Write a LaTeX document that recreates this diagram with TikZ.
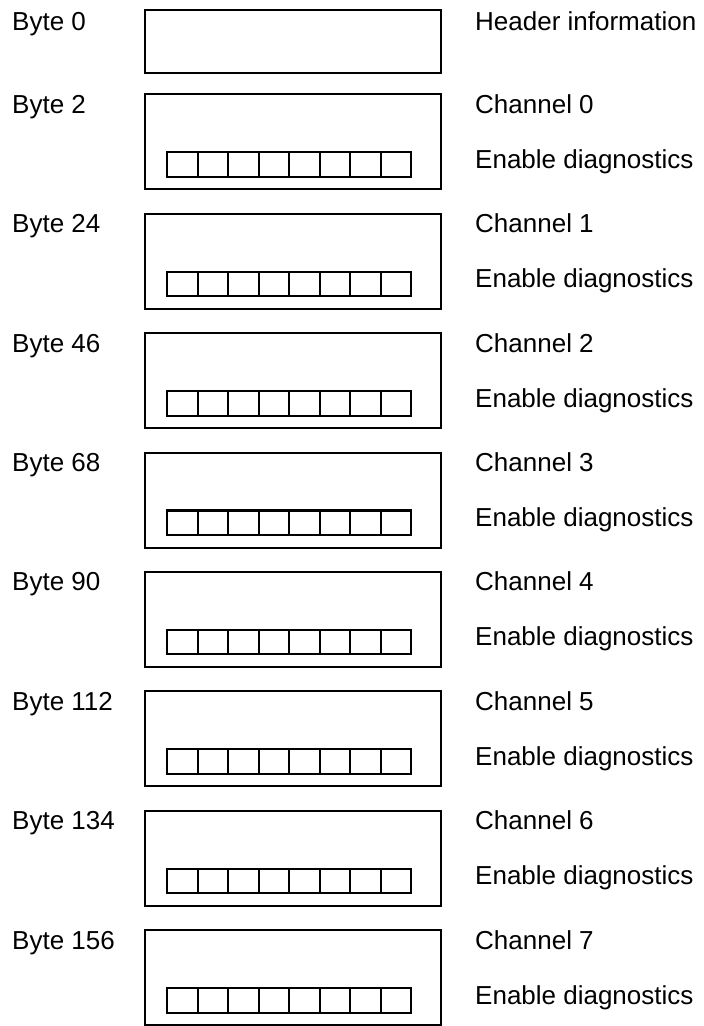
\documentclass[tikz,border=0pt]{standalone}
\usepackage{fontspec}
\setmainfont{Liberation Sans}
\usetikzlibrary{positioning}

\begin{document}
\begin{tikzpicture}[
    x=1pt,y=-1pt,
    font=\fontsize{26}{30}\selectfont,
    frame/.style={draw,line width=2.1pt,minimum width=296pt,inner sep=0pt,anchor=north west},
    bit/.style={draw,line width=2.1pt,minimum width=30.5pt,minimum height=24.5pt,inner sep=0pt,anchor=north west},
    lbl/.style={anchor=base west,inner sep=0pt}
  ]
    \useasboundingbox (0,0) rectangle (704,1026);
    \node[frame,minimum height=62.4pt] (hdr) at (144,9.3) {};
    \node[lbl] (hdrbyte) at (12,30) {Byte 0};
    \node[lbl] (hdrtxt) at (475,30) {Header information};
    \foreach \k/\b in {0/2,1/24,2/46,3/68,4/90,5/112,6/134,7/156} {
      \node[frame,minimum height=95pt] (ch\k) at (144,93.3+119.4*\k) {};
      \node[lbl] (byte\k) at (12,113.3+119.4*\k) {Byte \b};
      \node[lbl] (chtxt\k) at (475,113.3+119.4*\k) {Channel \k};
      \node[lbl] (diag\k) at (475,168.3+119.4*\k) {Enable diagnostics};
      \foreach \i in {0,...,7}
        \node[bit] (bit\k-\i) at (166+30.5*\i,151.2+119.4*\k) {};
    }
  \end{tikzpicture}
\end{document}
